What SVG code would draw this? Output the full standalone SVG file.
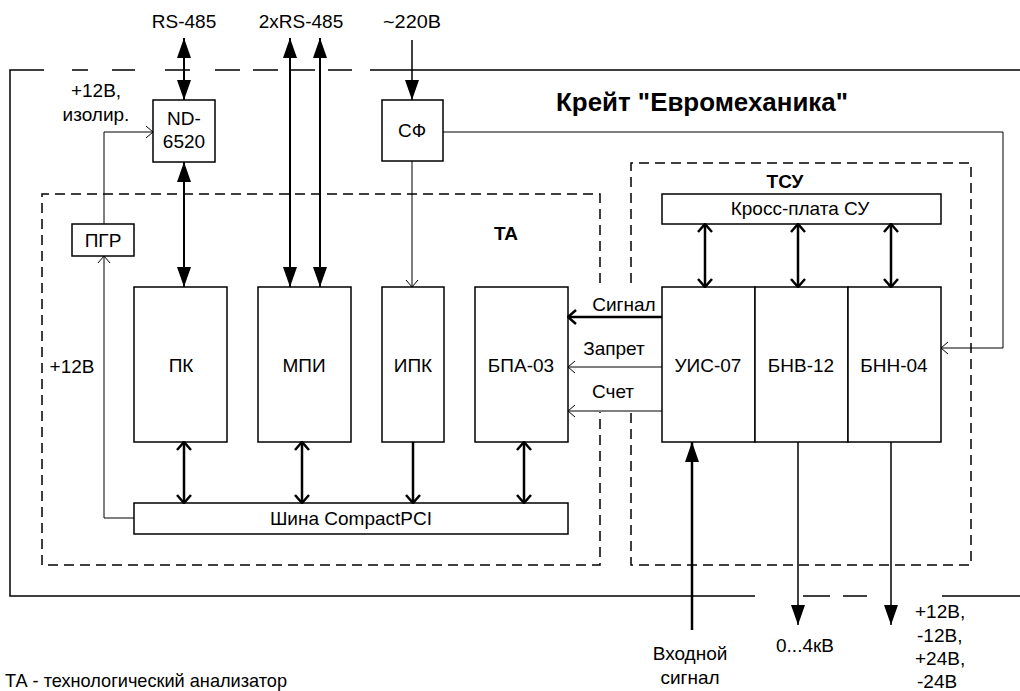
<svg xmlns="http://www.w3.org/2000/svg" width="1020" height="691" viewBox="0 0 1020 691">
<style>
text{font-family:"Liberation Sans",Arial,sans-serif;font-size:19px;fill:#000}
.c{text-anchor:middle}
.b{font-weight:bold}
.t{font-size:25px;font-weight:bold}
.box{fill:#fff;stroke:#000;stroke-width:1.5}
.dash{fill:none;stroke:#000;stroke-width:1.5;stroke-dasharray:10,6}
.ln{fill:none;stroke:#000;stroke-width:1.5}
.thin{fill:none;stroke:#000;stroke-width:1}
.med{fill:none;stroke:#000;stroke-width:2}
.hv{fill:none;stroke:#000;stroke-width:2.5}
</style>
<defs>
<marker id="fa" markerUnits="userSpaceOnUse" markerWidth="20" markerHeight="14" refX="20" refY="7" orient="auto-start-reverse" viewBox="0 0 20 14"><path d="M0,0 L20,7 L0,14 z" fill="#000"/></marker>
<marker id="ch" markerUnits="userSpaceOnUse" markerWidth="10" markerHeight="18" refX="9" refY="9" orient="auto-start-reverse" viewBox="0 0 10 18"><path d="M1,2 L9,9 L1,16" fill="none" stroke="#000" stroke-width="2.5"/></marker>
<marker id="tc" markerUnits="userSpaceOnUse" markerWidth="10" markerHeight="16" refX="9" refY="8" orient="auto-start-reverse" viewBox="0 0 10 16"><path d="M2,2 L9,8 L2,14" fill="none" stroke="#000" stroke-width="1"/></marker>
</defs>

<g id="crate">
<path class="ln" d="M44,70 H10 V596 H755 M72,70 H88 M112,70 H135 M165,70 H190 M215,70 H240 M253,70 H278 M290,70 H315 M328,70 H352 M370,70 H1020 M803,596 H830 M843,596 H867 M942,596 H1020"/>
<text class="t" x="556" y="111" textLength="292" lengthAdjust="spacingAndGlyphs">Крейт "Евромеханика"</text>
</g>

<g id="ta-group">
<path class="dash" d="M600,283 V194 H42 V565 H600 V412"/>
<text class="b c" x="506" y="240">ТА</text>
</g>
<g id="tsu-group">
<path class="dash" d="M631,283 V163 H971 V565 H631 V412"/>
<text class="b c" x="785" y="188">ТСУ</text>
</g>

<g id="nd6520"><rect class="box" x="153" y="100" width="62" height="62"/><text class="c" x="184" y="125">ND-</text><text class="c" x="184" y="148">6520</text></g>
<g id="sf"><rect class="box" x="382" y="100" width="61" height="61"/><text class="c" x="412" y="137">СФ</text></g>
<g id="pgr"><rect class="box" x="72" y="224" width="62" height="32"/><text class="c" x="103" y="247">ПГР</text></g>
<g id="pk"><rect class="box" x="134" y="287" width="93" height="155"/><text class="c" x="181" y="372">ПК</text></g>
<g id="mpi"><rect class="box" x="258" y="287" width="93" height="155"/><text class="c" x="304" y="372">МПИ</text></g>
<g id="ipk"><rect class="box" x="382" y="287" width="62" height="155"/><text class="c" x="413" y="372">ИПК</text></g>
<g id="bpa"><rect class="box" x="475" y="287" width="93" height="155"/><text class="c" x="521" y="372">БПА-03</text></g>
<g id="bus"><rect class="box" x="134" y="503" width="434" height="31"/><text class="c" x="351" y="525">Шина CompactPCI</text></g>
<g id="cross"><rect class="box" x="662" y="194" width="279" height="30"/><text class="c" x="800" y="215">Кросс-плата СУ</text></g>
<g id="uis"><rect class="box" x="662" y="287" width="93" height="155"/><text class="c" x="708" y="372">УИС-07</text></g>
<g id="bnv"><rect class="box" x="755" y="287" width="93" height="155"/><text class="c" x="801" y="372">БНВ-12</text></g>
<g id="bnn"><rect class="box" x="848" y="287" width="93" height="155"/><text class="c" x="894" y="372">БНН-04</text></g>

<g id="connectors">
<path class="med" d="M184,38 V100" marker-start="url(#fa)" marker-end="url(#fa)"/>
<path class="med" d="M184,162 V287" marker-start="url(#fa)" marker-end="url(#fa)"/>
<path class="med" d="M290,38 V287" marker-start="url(#fa)" marker-end="url(#fa)"/>
<path class="med" d="M320,38 V287" marker-start="url(#fa)" marker-end="url(#fa)"/>
<path class="ln" d="M412,40 V100" marker-end="url(#fa)"/>
<path class="thin" d="M412,161 V287" marker-end="url(#tc)"/>
<path class="thin" d="M443,132 H1003 V348 H941" marker-end="url(#tc)"/>
<path class="thin" d="M134,518 H104 V256" marker-end="url(#tc)"/>
<path class="thin" d="M104,224 V132 H153" marker-end="url(#tc)"/>
<path class="hv" d="M184,442 V503" marker-start="url(#ch)" marker-end="url(#ch)"/>
<path class="hv" d="M302,442 V503" marker-start="url(#ch)" marker-end="url(#ch)"/>
<path class="hv" d="M413,442 V503" marker-end="url(#ch)"/>
<path class="hv" d="M524,442 V503" marker-start="url(#ch)" marker-end="url(#ch)"/>
<path class="hv" d="M705,224 V287" marker-start="url(#ch)" marker-end="url(#ch)"/>
<path class="hv" d="M798,224 V287" marker-start="url(#ch)" marker-end="url(#ch)"/>
<path class="hv" d="M891,224 V287" marker-start="url(#ch)" marker-end="url(#ch)"/>
<path class="hv" d="M662,317 H568" marker-end="url(#ch)"/>
<path class="thin" d="M662,367 H568" marker-end="url(#tc)"/>
<path class="thin" d="M662,411 H568" marker-end="url(#tc)"/>
<path class="hv" d="M692,630 V442" marker-end="url(#fa)"/>
<path class="ln" d="M798,442 V625" marker-end="url(#fa)"/>
<path class="ln" d="M891,442 V625" marker-end="url(#fa)"/>
</g>

<g id="labels">
<text class="c" x="184" y="28">RS-485</text>
<text class="c" x="301" y="28">2xRS-485</text>
<text class="c" x="412" y="28" textLength="58" lengthAdjust="spacingAndGlyphs">~220В</text>
<text class="c" x="96" y="97">+12В,</text>
<text class="c" x="96" y="121">изолир.</text>
<text class="c" x="72" y="373">+12В</text>
<text class="c" x="624" y="311">Сигнал</text>
<text class="c" x="614" y="355">Запрет</text>
<text class="c" x="613" y="398">Счет</text>
<text class="c" x="690" y="660">Входной</text>
<text class="c" x="690" y="684">сигнал</text>
<text class="c" x="805" y="652">0...4кВ</text>
<text x="915" y="618">+12В,</text>
<text x="917" y="642">-12В,</text>
<text x="915" y="665">+24В,</text>
<text x="917" y="688">-24В</text>
<text x="5" y="687" textLength="282" lengthAdjust="spacingAndGlyphs">ТА - технологический анализатор</text>
</g>
</svg>
